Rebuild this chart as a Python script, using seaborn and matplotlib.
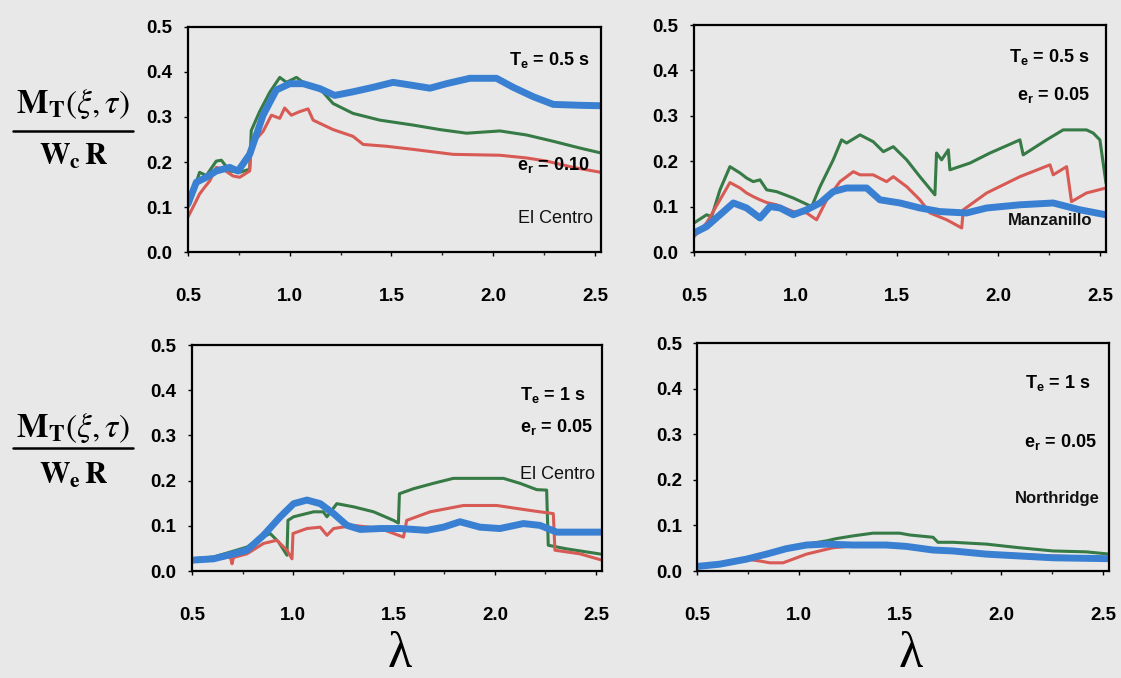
import numpy as np
import pandas as pd
import matplotlib
matplotlib.use("Agg")
import matplotlib.pyplot as plt
from matplotlib import font_manager
from matplotlib.ticker import MultipleLocator, FormatStrFormatter
from matplotlib.lines import Line2D
import seaborn as sns

# ---- data: normalised torsional moment vs. frequency ratio lambda ----
# Panel A: El Centro, Te = 0.5 s, er = 0.10
a_green_x = [0.5, 0.557, 0.59, 0.639, 0.664, 0.705, 0.754, 0.803, 0.811, 0.852, 0.902, 0.951, 0.984,
             1.033, 1.066, 1.148, 1.213, 1.311, 1.443, 1.607, 1.738, 1.869, 2.033, 2.164, 2.295, 2.426, 2.53]
a_green_y = [0.100, 0.177, 0.170, 0.202, 0.204, 0.180, 0.177, 0.184, 0.270, 0.312, 0.355, 0.388, 0.377,
             0.388, 0.377, 0.363, 0.330, 0.308, 0.293, 0.282, 0.272, 0.264, 0.269, 0.260, 0.246, 0.231, 0.220]
a_red_x = [0.5, 0.533, 0.557, 0.582, 0.607, 0.639, 0.672, 0.721, 0.754, 0.803, 0.811, 0.869, 0.91, 0.951,
           0.975, 1.008, 1.049, 1.09, 1.115, 1.213, 1.311, 1.361, 1.475, 1.607, 1.803, 2.033, 2.164, 2.262,
           2.393, 2.53]
a_red_y = [0.078, 0.107, 0.129, 0.144, 0.158, 0.188, 0.184, 0.169, 0.166, 0.180, 0.239, 0.268, 0.304, 0.297,
           0.320, 0.304, 0.312, 0.318, 0.293, 0.272, 0.257, 0.239, 0.235, 0.228, 0.217, 0.215, 0.209, 0.202,
           0.188, 0.177]
a_blue_x = [0.5, 0.541, 0.59, 0.639, 0.705, 0.746, 0.803, 0.869, 0.934, 1.0, 1.066, 1.148, 1.221, 1.311,
            1.41, 1.508, 1.607, 1.689, 1.77, 1.885, 2.016, 2.098, 2.197, 2.295, 2.426, 2.53]
a_blue_y = [0.107, 0.155, 0.166, 0.180, 0.188, 0.180, 0.217, 0.304, 0.360, 0.374, 0.374, 0.363, 0.348, 0.356,
            0.366, 0.377, 0.370, 0.364, 0.374, 0.386, 0.386, 0.366, 0.345, 0.328, 0.326, 0.325]

# Panel B: Manzanillo, Te = 0.5 s, er = 0.05
b_green_x = [0.5, 0.562, 0.587, 0.628, 0.677, 0.727, 0.759, 0.792, 0.825, 0.858, 0.907, 0.989, 1.08, 1.121,
             1.186, 1.227, 1.252, 1.318, 1.383, 1.433, 1.482, 1.548, 1.613, 1.687, 1.695, 1.72, 1.753, 1.761,
             1.86, 1.958, 2.106, 2.122, 2.237, 2.319, 2.434, 2.467, 2.5, 2.53]
b_green_y = [0.064, 0.082, 0.078, 0.137, 0.188, 0.174, 0.163, 0.155, 0.159, 0.137, 0.133, 0.119, 0.100, 0.144,
             0.203, 0.247, 0.240, 0.258, 0.243, 0.221, 0.232, 0.203, 0.166, 0.126, 0.218, 0.203, 0.225, 0.181,
             0.196, 0.218, 0.247, 0.214, 0.247, 0.269, 0.269, 0.262, 0.247, 0.152]
b_red_x = [0.5, 0.562, 0.628, 0.677, 0.727, 0.759, 0.792, 0.825, 0.858, 0.907, 0.989, 1.055, 1.104, 1.154,
           1.219, 1.285, 1.318, 1.383, 1.449, 1.482, 1.548, 1.613, 1.663, 1.745, 1.819, 1.827, 1.942, 2.106,
           2.254, 2.27, 2.336, 2.36, 2.434, 2.53]
b_red_y = [0.034, 0.064, 0.115, 0.153, 0.141, 0.130, 0.122, 0.115, 0.109, 0.104, 0.089, 0.086, 0.071, 0.115,
           0.155, 0.177, 0.170, 0.170, 0.155, 0.166, 0.144, 0.115, 0.086, 0.071, 0.053, 0.093, 0.130, 0.166,
           0.192, 0.170, 0.188, 0.111, 0.130, 0.141]
b_blue_x = [0.5, 0.562, 0.628, 0.694, 0.759, 0.825, 0.874, 0.924, 0.989, 1.055, 1.121, 1.186, 1.252, 1.351,
            1.416, 1.515, 1.613, 1.712, 1.843, 1.942, 2.106, 2.27, 2.401, 2.53]
b_blue_y = [0.042, 0.056, 0.082, 0.108, 0.097, 0.075, 0.100, 0.097, 0.082, 0.093, 0.108, 0.133, 0.141, 0.141,
            0.115, 0.108, 0.097, 0.089, 0.086, 0.097, 0.104, 0.108, 0.093, 0.082]

# Panel C: El Centro, Te = 1 s, er = 0.05
c_green_x = [0.5, 0.607, 0.69, 0.772, 0.838, 0.887, 0.929, 0.97, 0.975, 1.003, 1.102, 1.15, 1.168, 1.217,
             1.3, 1.399, 1.498, 1.522, 1.527, 1.596, 1.695, 1.794, 1.926, 2.042, 2.124, 2.207, 2.256, 2.264,
             2.355, 2.53]
c_green_y = [0.027, 0.031, 0.042, 0.053, 0.072, 0.083, 0.064, 0.035, 0.112, 0.120, 0.131, 0.131, 0.120, 0.149,
             0.142, 0.131, 0.112, 0.106, 0.171, 0.182, 0.194, 0.205, 0.205, 0.205, 0.194, 0.180, 0.179, 0.057,
             0.049, 0.037]
c_red_x = [0.5, 0.607, 0.69, 0.698, 0.705, 0.772, 0.854, 0.92, 0.97, 0.995, 1.0, 1.069, 1.135, 1.168, 1.201,
           1.3, 1.432, 1.547, 1.563, 1.679, 1.844, 2.009, 2.174, 2.289, 2.297, 2.421, 2.53]
c_red_y = [0.024, 0.027, 0.031, 0.016, 0.030, 0.038, 0.061, 0.068, 0.046, 0.027, 0.083, 0.094, 0.097, 0.079,
           0.094, 0.101, 0.094, 0.075, 0.112, 0.131, 0.145, 0.145, 0.134, 0.127, 0.046, 0.038, 0.024]
c_blue_x = [0.5, 0.607, 0.706, 0.772, 0.854, 0.937, 1.003, 1.069, 1.135, 1.201, 1.267, 1.333, 1.432, 1.531,
            1.662, 1.745, 1.827, 1.926, 2.025, 2.141, 2.223, 2.306, 2.53]
c_blue_y = [0.024, 0.027, 0.038, 0.046, 0.079, 0.120, 0.149, 0.157, 0.149, 0.127, 0.101, 0.092, 0.094, 0.094,
            0.090, 0.097, 0.109, 0.097, 0.094, 0.105, 0.101, 0.086, 0.086]

# Panel D: Northridge, Te = 1 s, er = 0.05
d_green_x = [0.5, 0.612, 0.743, 0.842, 0.94, 1.039, 1.137, 1.186, 1.268, 1.367, 1.498, 1.548, 1.663, 1.687,
             1.761, 1.925, 2.089, 2.254, 2.418, 2.533]
d_green_y = [0.010, 0.015, 0.026, 0.040, 0.051, 0.059, 0.066, 0.071, 0.077, 0.083, 0.083, 0.079, 0.074, 0.063,
             0.063, 0.059, 0.051, 0.044, 0.042, 0.037]
d_red_x = [0.5, 0.612, 0.743, 0.809, 0.858, 0.924, 0.973, 1.039, 1.104, 1.17, 1.268, 1.498, 1.679, 1.925,
           2.254, 2.533]
d_red_y = [0.010, 0.015, 0.026, 0.022, 0.018, 0.018, 0.026, 0.037, 0.044, 0.051, 0.055, 0.055, 0.046, 0.039,
           0.033, 0.029]
d_blue_x = [0.5, 0.612, 0.743, 0.842, 0.94, 1.039, 1.137, 1.268, 1.432, 1.531, 1.663, 1.761, 1.925, 2.089,
            2.254, 2.533]
d_blue_y = [0.010, 0.015, 0.026, 0.037, 0.049, 0.057, 0.059, 0.057, 0.057, 0.054, 0.046, 0.044, 0.037, 0.033,
            0.029, 0.027]

x_ticks = [0.5, 1.0, 1.5, 2.0, 2.5]
y_ticks = [0.0, 0.1, 0.2, 0.3, 0.4, 0.5]

panel_labels = [
    (r"T$_{\mathregular{e}}$ = 0.5 s", r"e$_{\mathregular{r}}$ = 0.10", "El Centro"),
    (r"T$_{\mathregular{e}}$ = 0.5 s", r"e$_{\mathregular{r}}$ = 0.05", "Manzanillo"),
    (r"T$_{\mathregular{e}}$ = 1 s", r"e$_{\mathregular{r}}$ = 0.05", "El Centro"),
    (r"T$_{\mathregular{e}}$ = 1 s", r"e$_{\mathregular{r}}$ = 0.05", "Northridge"),
]

# ---- styling ----
sns.set_style("ticks")
installed = {f.name for f in font_manager.fontManager.ttflist}
narrow = "Liberation Sans Narrow" if "Liberation Sans Narrow" in installed else "Liberation Sans"
serif = "Liberation Serif" if "Liberation Serif" in installed else "DejaVu Serif"
plt.rcParams["font.family"] = [narrow, "DejaVu Sans"]
plt.rcParams["mathtext.fontset"] = "custom"
plt.rcParams["mathtext.rm"] = f"{narrow}:bold"
plt.rcParams["mathtext.it"] = f"{narrow}:bold"
plt.rcParams["mathtext.bf"] = f"{narrow}:bold"

BG = "#e8e8e8"
GREEN = "#367a46"
RED = "#d85a55"
BLUE = "#3a80d2"
TICK_FS = 13.5
NOTE_FS = 13

fig = plt.figure(figsize=(11.21, 6.78), dpi=100, facecolor=BG)

# axes rectangles [left, bottom, width, height] in figure fraction
rects = [
    [0.1677, 0.6283, 0.3685, 0.3319],
    [0.6191, 0.6283, 0.3675, 0.3348],
    [0.1713, 0.1578, 0.3657, 0.3333],
    [0.6218, 0.1578, 0.3675, 0.3363],
]

series = [
    (a_green_x, a_green_y, a_red_x, a_red_y, a_blue_x, a_blue_y),
    (b_green_x, b_green_y, b_red_x, b_red_y, b_blue_x, b_blue_y),
    (c_green_x, c_green_y, c_red_x, c_red_y, c_blue_x, c_blue_y),
    (d_green_x, d_green_y, d_red_x, d_red_y, d_blue_x, d_blue_y),
]

# text anchors (axes fraction): Te, er, record name
text_pos = [
    [(0.973, 0.853), (0.973, 0.387), (0.98, 0.151)],
    [(0.961, 0.859), (0.961, 0.692), (0.968, 0.141)],
    [(0.959, 0.779), (0.978, 0.637), (0.983, 0.425)],
    [(0.954, 0.825), (0.971, 0.566), (0.978, 0.320)],
]
name_bold = [False, True, False, True]

for i, rect in enumerate(rects):
    ax = fig.add_axes(rect)
    ax.set_facecolor(BG)
    gx, gy, rx, ry, bx, by = series[i]
    frames = [
        (pd.DataFrame({"lam": gx, "m": gy}), GREEN, 2.2),
        (pd.DataFrame({"lam": rx, "m": ry}), RED, 2.2),
        (pd.DataFrame({"lam": bx, "m": by}), BLUE, 5.0),
    ]
    for df, col, lw in frames:
        sns.lineplot(data=df, x="lam", y="m", ax=ax, color=col, lw=lw,
                     estimator=None, sort=False, legend=False)
    ax.set_xlim(0.5, 2.53)
    ax.set_ylim(0.0, 0.5)
    ax.set_xticks(x_ticks)
    ax.set_yticks(y_ticks)
    ax.xaxis.set_minor_locator(MultipleLocator(0.25))
    ax.xaxis.set_major_formatter(FormatStrFormatter("%.1f"))
    ax.yaxis.set_major_formatter(FormatStrFormatter("%.1f"))
    ax.set_xlabel("")
    ax.set_ylabel("")
    for s in ax.spines.values():
        s.set_visible(True)
        s.set_color("black")
        s.set_linewidth(1.6)
    ax.tick_params(axis="x", which="major", length=3, width=1.0, pad=23,
                   labelsize=TICK_FS, colors="black")
    ax.tick_params(axis="x", which="minor", length=2, width=1.0)
    ax.tick_params(axis="y", which="major", length=3, width=1.0, pad=8,
                   labelsize=TICK_FS, colors="black")
    for lab in ax.get_xticklabels() + ax.get_yticklabels():
        lab.set_fontweight("bold")

    te, er, name = panel_labels[i]
    (tx, ty), (ex, ey), (nx, ny) = text_pos[i]
    ax.text(tx, ty, te, transform=ax.transAxes, ha="right", va="center",
            fontsize=NOTE_FS, fontweight="bold", color="black")
    ax.text(ex, ey, er, transform=ax.transAxes, ha="right", va="center",
            fontsize=NOTE_FS, fontweight="bold", color="black")
    ax.text(nx, ny, name, transform=ax.transAxes, ha="right", va="center",
            fontsize=NOTE_FS if not name_bold[i] else 12,
            fontweight="bold" if name_bold[i] else "normal", color="#111111")

# ---- y-axis quantity written as a fraction, one per row ----
num = r"$\mathbf{M}_{\mathbf{T}}\left(\xi,\tau\right)$"
dens = [r"$\mathbf{W}_{\mathbf{c}}\,\mathbf{R}$", r"$\mathbf{W}_{\mathbf{e}}\,\mathbf{R}$"]
for (ny_, ly_, dy_), den in zip([(0.847, 0.807, 0.768), (0.368, 0.339, 0.298)], dens):
    fig.text(0.065, ny_, num, ha="center", va="center", fontsize=24,
             math_fontfamily="stix", color="black")
    fig.add_artist(Line2D([0.012, 0.119], [ly_, ly_], transform=fig.transFigure,
                          color="black", lw=1.8))
    fig.text(0.066, dy_, den, ha="center", va="center", fontsize=22,
             math_fontfamily="stix", color="black")

# upright serif lambda under each column
for xc in (0.357, 0.812):
    fig.text(xc, 0.035, "\u03bb", ha="center", va="center", fontsize=36,
             family=[serif, "DejaVu Serif"], color="black")

fig.savefig("out.png", dpi=100, facecolor=BG)
